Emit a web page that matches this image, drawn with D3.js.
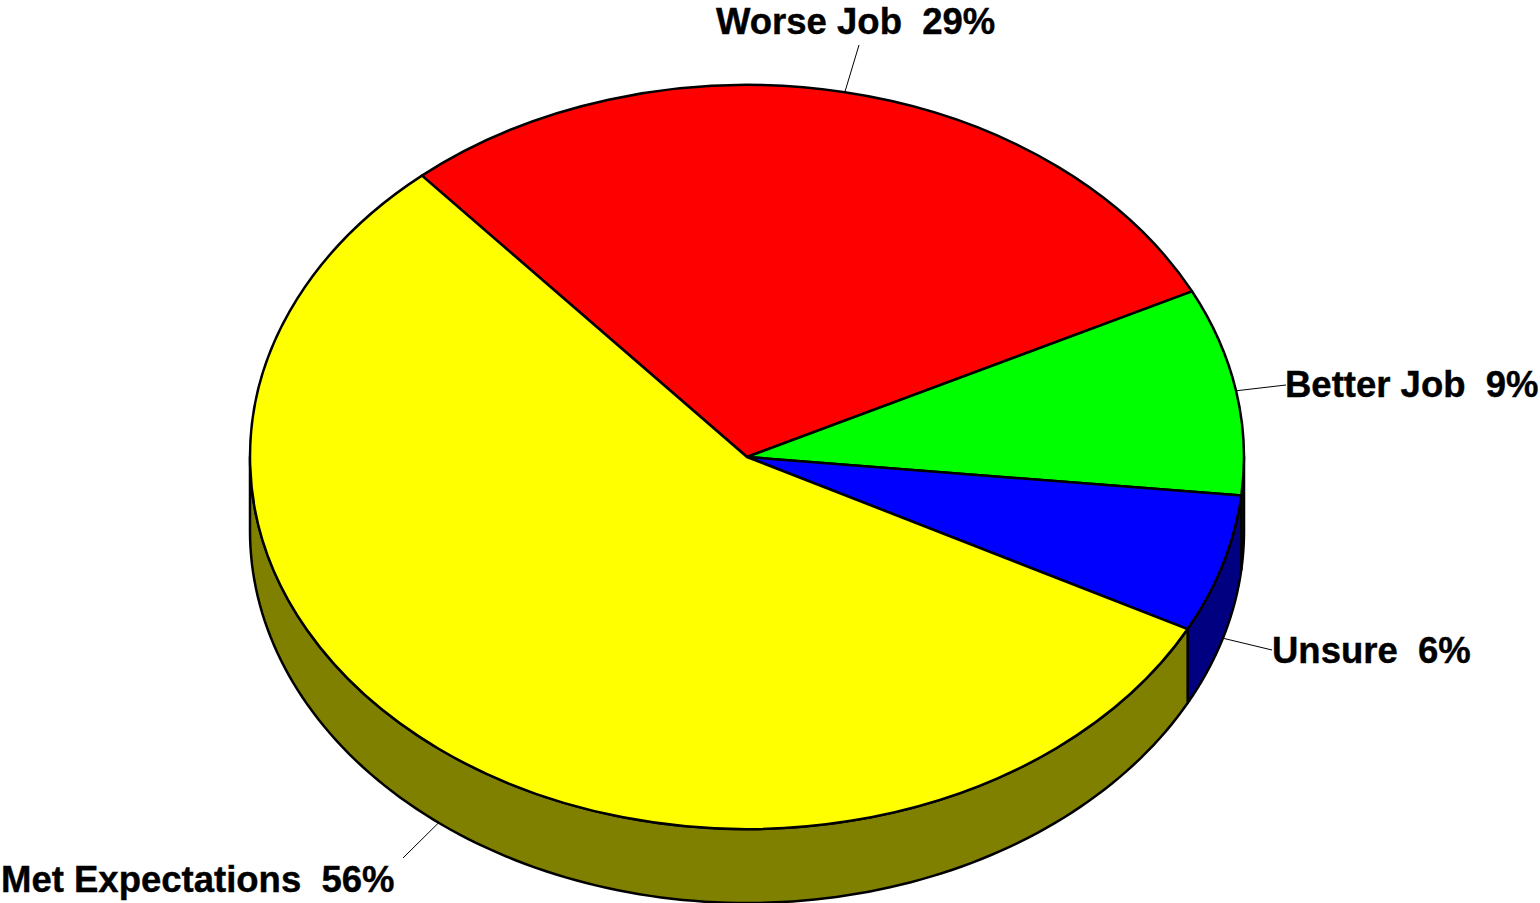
<!DOCTYPE html>
<html lang="en">
<head>
    <meta charset="UTF-8">
    <title>Job Expectations</title>
    <script src="https://d3js.org/d3.v7.min.js"></script>
    <style>
        body { margin: 0; overflow: hidden; background: #fff; }
        svg { display: block; }
        .label { font-family: 'Liberation Sans', Arial, sans-serif; font-weight: bold; font-size: 36.5px; fill: #000; white-space: pre; stroke: #000; stroke-width: 0.4px; }
        .leader { stroke: #000; stroke-width: 1; fill: none; }
        .slice, .wall { stroke: #000; stroke-width: 2.5; stroke-linejoin: round; }
    </style>
</head>
<body>
    <svg width="1540" height="903"></svg>
    <script>
        const categories = ["Worse Job", "Better Job", "Unsure", "Met Expectations"];
        const values = [29, 9, 6, 56];
        const topColors = ["#ff0000", "#00ff00", "#0000ff", "#ffff00"];
        const sideColors = ["#800000", "#008000", "#000080", "#808000"];

        const cx = 747, cy = 457, rx = 497, ry = 372, depth = 74;
        const startAngle = -40.85 * Math.PI / 180;

        // label anchor + leader end, in px
        const labelPos = [
            { x: 716, y: 34, lx: 859, ly: 45 },
            { x: 1285, y: 397, lx: 1286, ly: 385 },
            { x: 1272, y: 663, lx: 1272, ly: 650 },
            { x: 1, y: 892, lx: 403, ly: 858 }
        ];

        const svg = d3.select("svg");

        const pie = d3.pie().sort(null).value(d => d)
            .startAngle(startAngle).endAngle(startAngle + 2 * Math.PI);
        const arcs = pie(values);

        const px = a => cx + rx * Math.sin(a);
        const py = a => cy - ry * Math.cos(a);

        // side wall: only the part of the rim facing the viewer
        const line = d3.line();
        const wall = svg.append("g");
        arcs.forEach((d, i) => {
            const a0 = Math.max(d.startAngle, Math.PI / 2);
            const a1 = Math.min(d.endAngle, 3 * Math.PI / 2);
            if (a1 <= a0) return;
            const pts = d3.range(0, 121).map(k => a0 + (a1 - a0) * k / 120);
            const rim = pts.map(a => [px(a), py(a)]);
            const low = pts.slice().reverse().map(a => [px(a), py(a) + depth]);
            wall.append("path")
                .attr("class", "wall")
                .attr("fill", sideColors[i])
                .attr("d", line(rim.concat(low)) + "Z");
        });

        // leader lines start at the outer edge, on the wall's lower rim for front slices
        const leaders = svg.append("g");
        arcs.forEach((d, i) => {
            const mid = (d.startAngle + d.endAngle) / 2;
            const drop = Math.cos(mid) < 0 ? depth : 0;
            leaders.append("line")
                .attr("class", "leader")
                .attr("x1", px(mid)).attr("y1", py(mid) + drop)
                .attr("x2", labelPos[i].lx).attr("y2", labelPos[i].ly);
        });

        const arc = d3.arc().innerRadius(0).outerRadius(rx);
        svg.append("g")
            .attr("transform", `translate(${cx},${cy}) scale(1,${ry / rx})`)
            .selectAll("path")
            .data(arcs)
            .enter().append("path")
            .attr("class", "slice")
            .attr("vector-effect", "non-scaling-stroke")
            .attr("fill", (d, i) => topColors[i])
            .attr("d", arc);

        svg.append("g")
            .selectAll("text")
            .data(arcs)
            .enter().append("text")
            .attr("class", "label")
            .attr("x", (d, i) => labelPos[i].x)
            .attr("y", (d, i) => labelPos[i].y)
            .text((d, i) => `${categories[i]}  ${values[i]}%`);
    </script>
</body>
</html>
